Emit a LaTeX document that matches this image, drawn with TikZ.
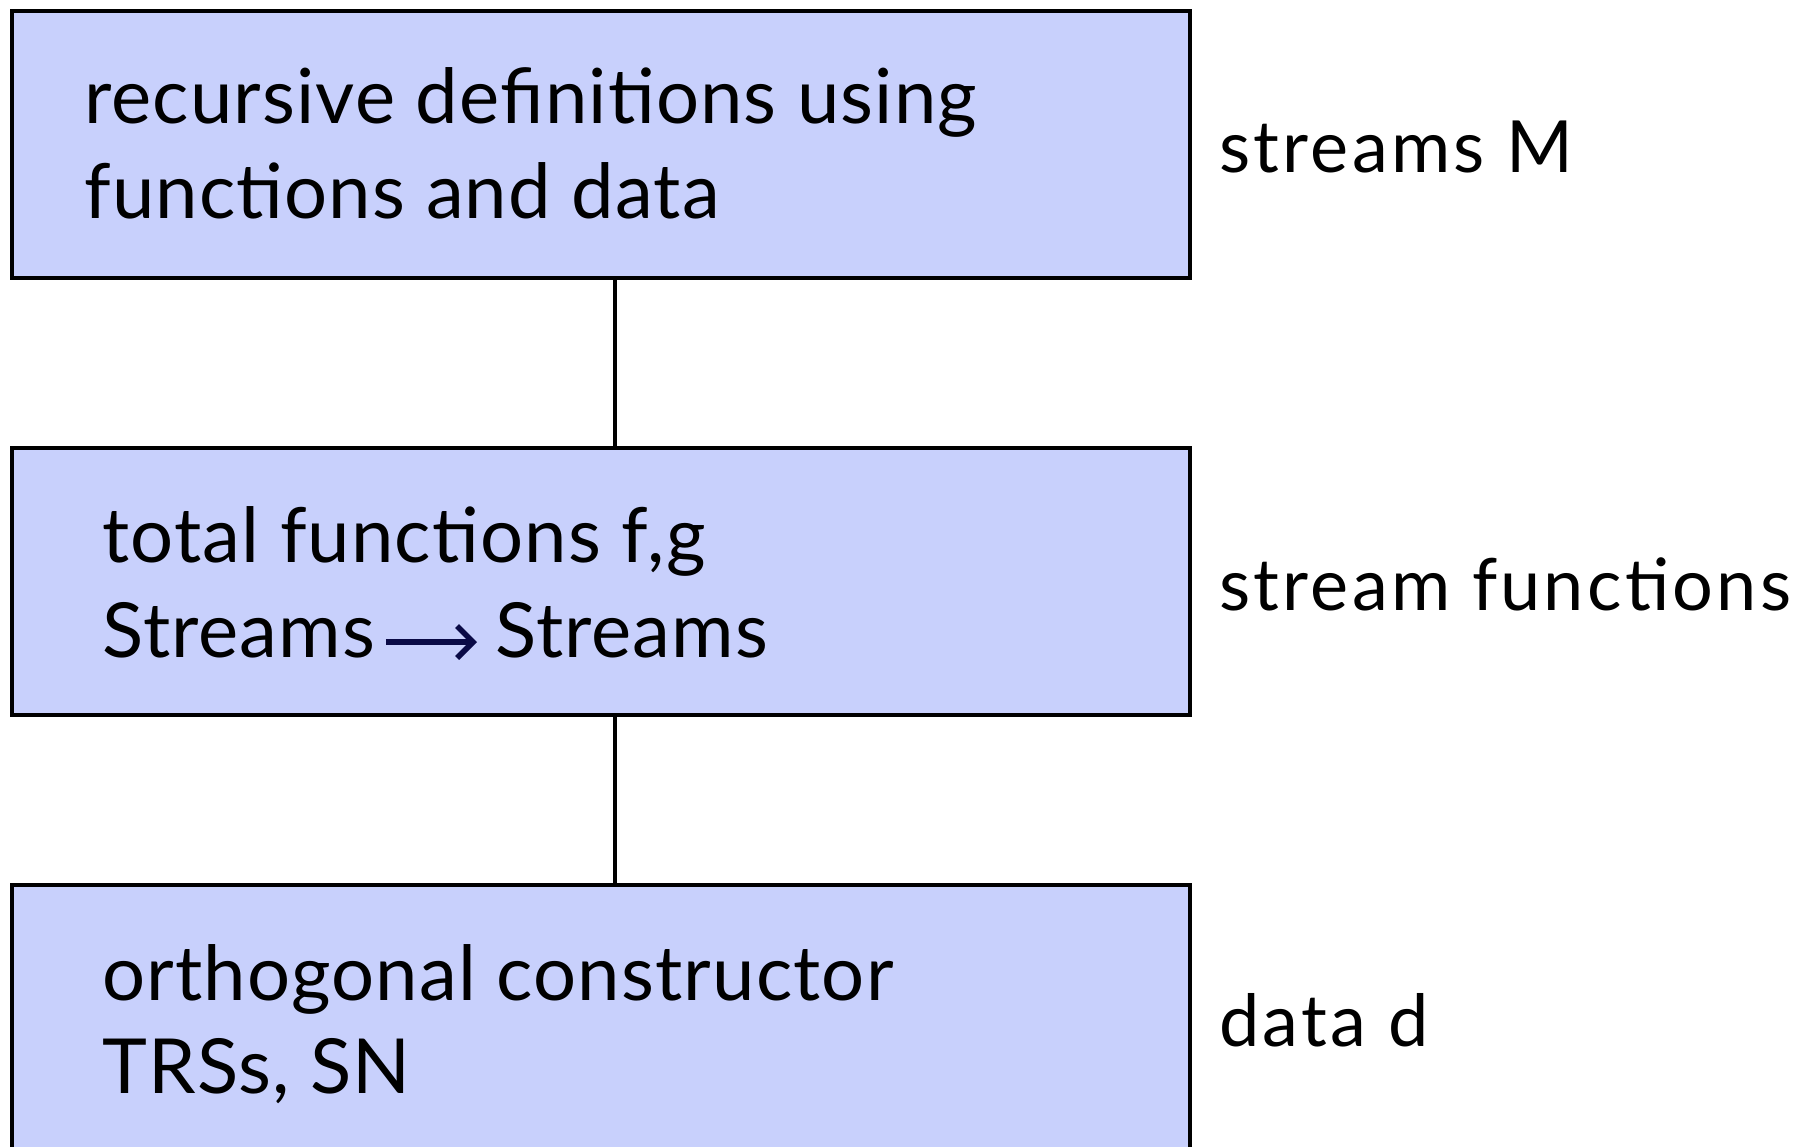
\documentclass[tikz,border=0pt]{standalone}
\usepackage{fontspec}
\usetikzlibrary{arrows.meta}
\setmainfont{Lato}
\newfontfamily\boxfont[LetterSpace=1.5]{Lato}
\newfontfamily\labelfont[LetterSpace=4.5]{Lato}
\definecolor{boxfill}{RGB}{200,208,252}
\definecolor{arrowcol}{RGB}{10,10,70}
\begin{document}
\begin{tikzpicture}[x=0.5pt,y=-0.5pt,
  levelbox/.style={draw=black,line width=1.9pt,fill=boxfill,rectangle,inner sep=0pt,
    minimum width=589pt,minimum height=133.5pt,anchor=north west},
  boxtext/.style={anchor=base west,inner sep=0pt,font=\fontsize{38}{38}\selectfont\boxfont},
  sidetext/.style={anchor=base west,inner sep=0pt,font=\fontsize{36}{36}\selectfont\labelfont},
  link/.style={draw=black,line width=1.6pt},
  maparrow/.style={draw=arrowcol,line width=2.8pt,-{Straight Barb[length=8pt,width=16pt,line width=2.8pt]}}]
\useasboundingbox (0,0) rectangle (1798,1146);
\clip (0,0) rectangle (1798,1146);
\node[levelbox] (b1) at (10,9) {};
\node[levelbox] (b2) at (10,446) {};
\node[levelbox] (b3) at (10,883) {};
\node[boxtext] (t1a) at (84,123) {recursive definitions using};
\node[boxtext] (t1b) at (84,218) {functions and data};
\node[boxtext] (t2a) at (102,562) {total functions f,g};
\node[boxtext] (t2b) at (102,657) {Streams};
\node[boxtext] (t2c) at (495,657) {Streams};
\node[boxtext] (t3a) at (102,1000) {orthogonal constructor};
\node[boxtext] (t3b) at (102,1093) {TRSs, SN};
\node[sidetext] (s1) at (1219,172) {streams M};
\node[sidetext] (s2) at (1219,610) {stream functions};
\node[sidetext] (s3) at (1219,1046) {data d};
\draw[link] ([xshift=302.5pt]b1.south west) -- ([xshift=302.5pt]b2.north west);
\draw[link] ([xshift=302.5pt]b2.south west) -- ([xshift=302.5pt]b3.north west);
\draw[maparrow] ([xshift=5pt,yshift=7.5pt]t2b.base east) -- ([xshift=-9pt,yshift=7.5pt]t2c.base west);
\end{tikzpicture}
\end{document}
